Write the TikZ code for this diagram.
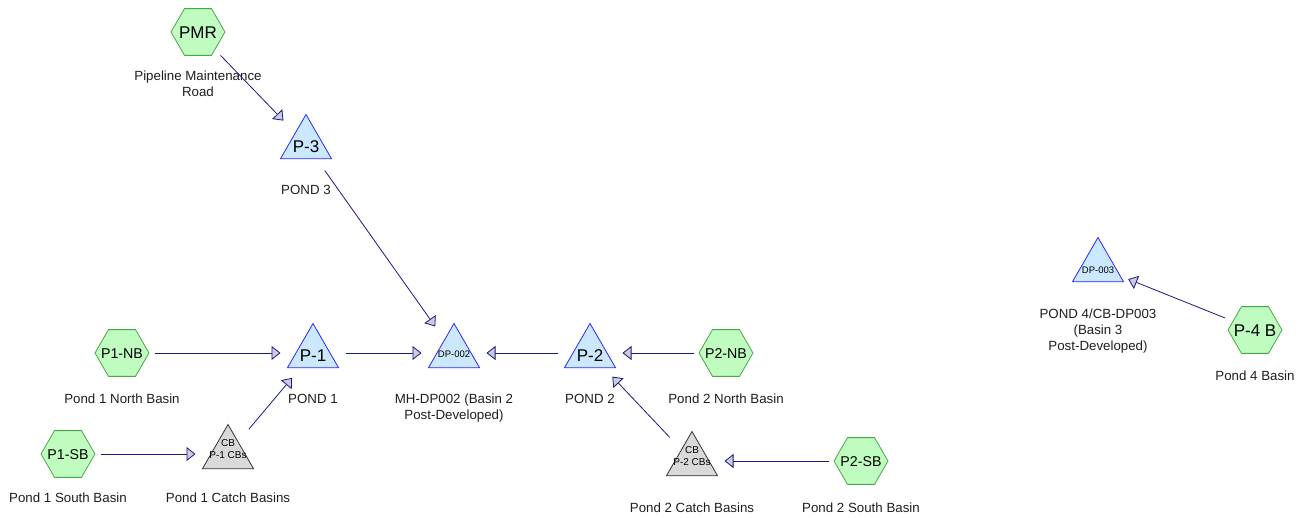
\documentclass[tikz,border=0pt]{standalone}
\usepackage{fontspec}
\setmainfont{Liberation Sans}
\usetikzlibrary{shapes.geometric,arrows.meta}
\definecolor{hexfill}{RGB}{192,252,192}
\definecolor{hexline}{RGB}{70,170,70}
\definecolor{trifill}{RGB}{204,232,255}
\definecolor{triline}{RGB}{40,40,250}
\definecolor{cbfill}{RGB}{217,217,217}
\definecolor{cbline}{RGB}{50,50,50}
\definecolor{flow}{RGB}{25,25,135}
\definecolor{tipfill}{RGB}{205,205,215}
\definecolor{txt}{RGB}{30,30,30}
\newcommand\ctr[2]{\smash{\makebox[0pt]{\raisebox{#1}{#2}}}}
\tikzset{
 hexnode/.style={regular polygon, regular polygon sides=6, minimum size=54pt, inner sep=0pt, draw=hexline, fill=hexfill, line width=0.8pt, text=black},
 pondnode/.style={regular polygon, regular polygon sides=3, minimum size=59pt, inner sep=0pt, draw=triline, fill=trifill, line width=0.8pt, text=black},
 cbnode/.style={pondnode, draw=cbline, fill=cbfill},
 lbl/.style={font=\fontsize{13.3}{16}\selectfont, text=txt, align=center, inner sep=0pt, anchor=base},
 flowline/.style={draw=flow, line width=0.8pt, shorten <=32.5pt, shorten >=32.5pt, -{Triangle[length=9pt,width=14pt,fill=tipfill]}},
 bigtxt/.style={font=\fontsize{17}{20}\selectfont},
 midtxt/.style={font=\fontsize{14.2}{17}\selectfont},
 smalltxt/.style={font=\fontsize{9.5}{11}\selectfont},
 cbtxt/.style={font=\fontsize{10}{12}\selectfont},
}
\begin{document}
\begin{tikzpicture}[x=1pt,y=-1pt]
\useasboundingbox (0,0) rectangle (1307,518);
% nodes
\node[hexnode, bigtxt] (pmr) at (198,32) {\ctr{-6.1pt}{PMR}};
\node[pondnode, bigtxt] (p3) at (306,144) {\ctr{-8.1pt}{P-3}};
\node[hexnode, midtxt] (p1nb) at (122,353) {\ctr{-5.1pt}{P1-NB}};
\node[pondnode, bigtxt] (p1) at (313,353) {\ctr{-8.1pt}{P-1}};
\node[pondnode, smalltxt] (dp2) at (454,353) {\ctr{-4.9pt}{DP-002}};
\node[pondnode, bigtxt] (p2) at (590,353) {\ctr{-8.1pt}{P-2}};
\node[hexnode, midtxt] (p2nb) at (726,353) {\ctr{-5.1pt}{P2-NB}};
\node[hexnode, midtxt] (p1sb) at (68,454) {\ctr{-5.1pt}{P1-SB}};
\node[cbnode, cbtxt] (cb1) at (228,454) {\ctr{7.9pt}{CB}\ctr{-4.1pt}{P-1 CBs}};
\node[cbnode, cbtxt] (cb2) at (692,461) {\ctr{7.9pt}{CB}\ctr{-4.1pt}{P-2 CBs}};
\node[hexnode, midtxt] (p2sb) at (861,461) {\ctr{-5.1pt}{P2-SB}};
\node[pondnode, smalltxt] (dp3) at (1098,267) {\ctr{-6.4pt}{DP-003}};
\node[hexnode, bigtxt] (p4b) at (1255,330) {\ctr{-6.1pt}{P-4 B}};
% labels (base = baseline of last line)
\node[lbl] (lpmr) at (198,97) {Pipeline Maintenance\\Road};
\node[lbl] (lp3) at (306,195) {POND 3};
\node[lbl] (lp1nb) at (122,404) {Pond 1 North Basin};
\node[lbl] (lp1) at (313,404) {POND 1};
\node[lbl] (ldp2) at (454,420) {MH-DP002 (Basin 2\\Post-Developed)};
\node[lbl] (lp2) at (590,404) {POND 2};
\node[lbl] (lp2nb) at (726,404) {Pond 2 North Basin};
\node[lbl] (lp1sb) at (68,502) {Pond 1 South Basin};
\node[lbl] (lcb1) at (228,502) {Pond 1 Catch Basins};
\node[lbl] (lcb2) at (692,512) {Pond 2 Catch Basins};
\node[lbl] (lp2sb) at (861,512) {Pond 2 South Basin};
\node[lbl] (ldp3) at (1098,351) {POND 4/CB-DP003\\(Basin 3\\Post-Developed)};
\node[lbl] (lp4b) at (1255,381) {Pond 4 Basin};
% connectors
\draw[flowline] (pmr.center) -- (p3.center);
\draw[flowline] (p3.center) -- (dp2.center);
\draw[flowline] (p1nb.center) -- (p1.center);
\draw[flowline] (p1.center) -- (dp2.center);
\draw[flowline] (p2.center) -- (dp2.center);
\draw[flowline] (p2nb.center) -- (p2.center);
\draw[flowline] (p1sb.center) -- (cb1.center);
\draw[flowline] (cb1.center) -- (p1.center);
\draw[flowline] (p2sb.center) -- (cb2.center);
\draw[flowline] (cb2.center) -- (p2.center);
\draw[flowline] (p4b.center) -- (dp3.center);
\end{tikzpicture}
\end{document}
